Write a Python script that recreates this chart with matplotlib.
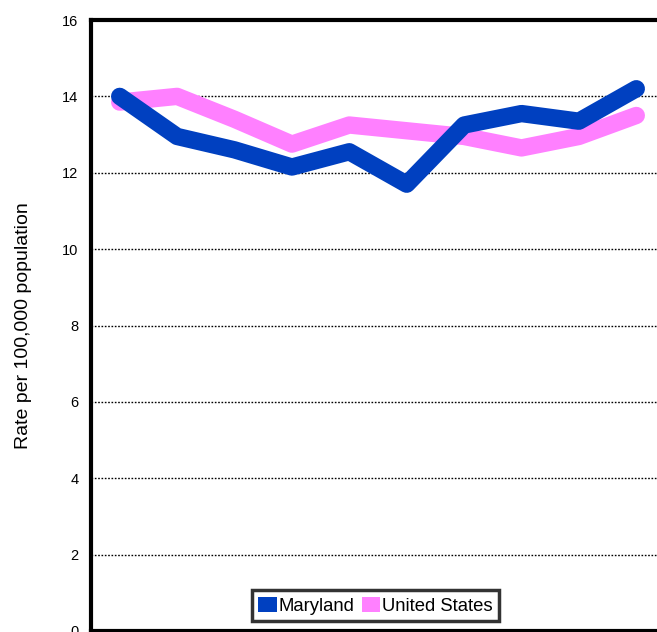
import matplotlib
matplotlib.use("Agg")
import matplotlib.pyplot as plt
from matplotlib.patches import Patch
import numpy as np

series_names = ["Maryland", "United States"]
maryland = [14.0, 12.95, 12.6, 12.15, 12.55, 11.7, 13.25, 13.55, 13.35, 14.2]
united_states = [13.85, 14.0, 13.4, 12.75, 13.25, 13.1, 12.95, 12.65, 12.95, 13.5]
y_ticks = [0, 2, 4, 6, 8, 10, 12, 14, 16]

md_color = "#0040C0"
us_color = "#FF80FF"

plt.rcParams["font.family"] = ["Liberation Sans", "DejaVu Sans"]

fig = plt.figure(figsize=(6.57, 6.32), dpi=100)
ax = fig.add_axes([91 / 657, 1 / 632, (665 - 91) / 657, (631 - 20) / 632])

x = np.arange(len(maryland))
ax.plot(x, united_states, color=us_color, lw=12.5, solid_joinstyle="round",
        solid_capstyle="round", zorder=3)
ax.plot(x, maryland, color=md_color, lw=12.5, solid_joinstyle="round",
        solid_capstyle="round", zorder=4)

ax.set_xlim(-0.5, len(maryland) - 0.5)
ax.set_ylim(0, 16)
ax.set_yticks(y_ticks)
ax.set_yticklabels([str(t) for t in y_ticks], fontsize=10.5)
ax.set_xticks([])
ax.yaxis.grid(True, color="black", linestyle=(0, (1.2, 1.2)), linewidth=1)
ax.set_axisbelow(True)
ax.tick_params(axis="y", length=0, pad=9)

for side in ["left", "top", "bottom", "right"]:
    ax.spines[side].set_linewidth(3)
    ax.spines[side].set_color("black")

ax.set_ylabel("Rate per 100,000 population", fontsize=14, labelpad=22)

handles = [Patch(facecolor=md_color, edgecolor="none"),
           Patch(facecolor=us_color, edgecolor="none")]
leg = ax.legend(handles, series_names, loc="lower center",
                bbox_to_anchor=(0.496, 0.016), ncol=2, fontsize=13.3,
                frameon=True, fancybox=False, handlelength=1.0,
                handleheight=0.9, handletextpad=0.1, columnspacing=0.4,
                borderpad=0.35, borderaxespad=0)
leg.get_frame().set_edgecolor("black")
leg.get_frame().set_linewidth(2.5)

fig.savefig("out.png", dpi=100)
